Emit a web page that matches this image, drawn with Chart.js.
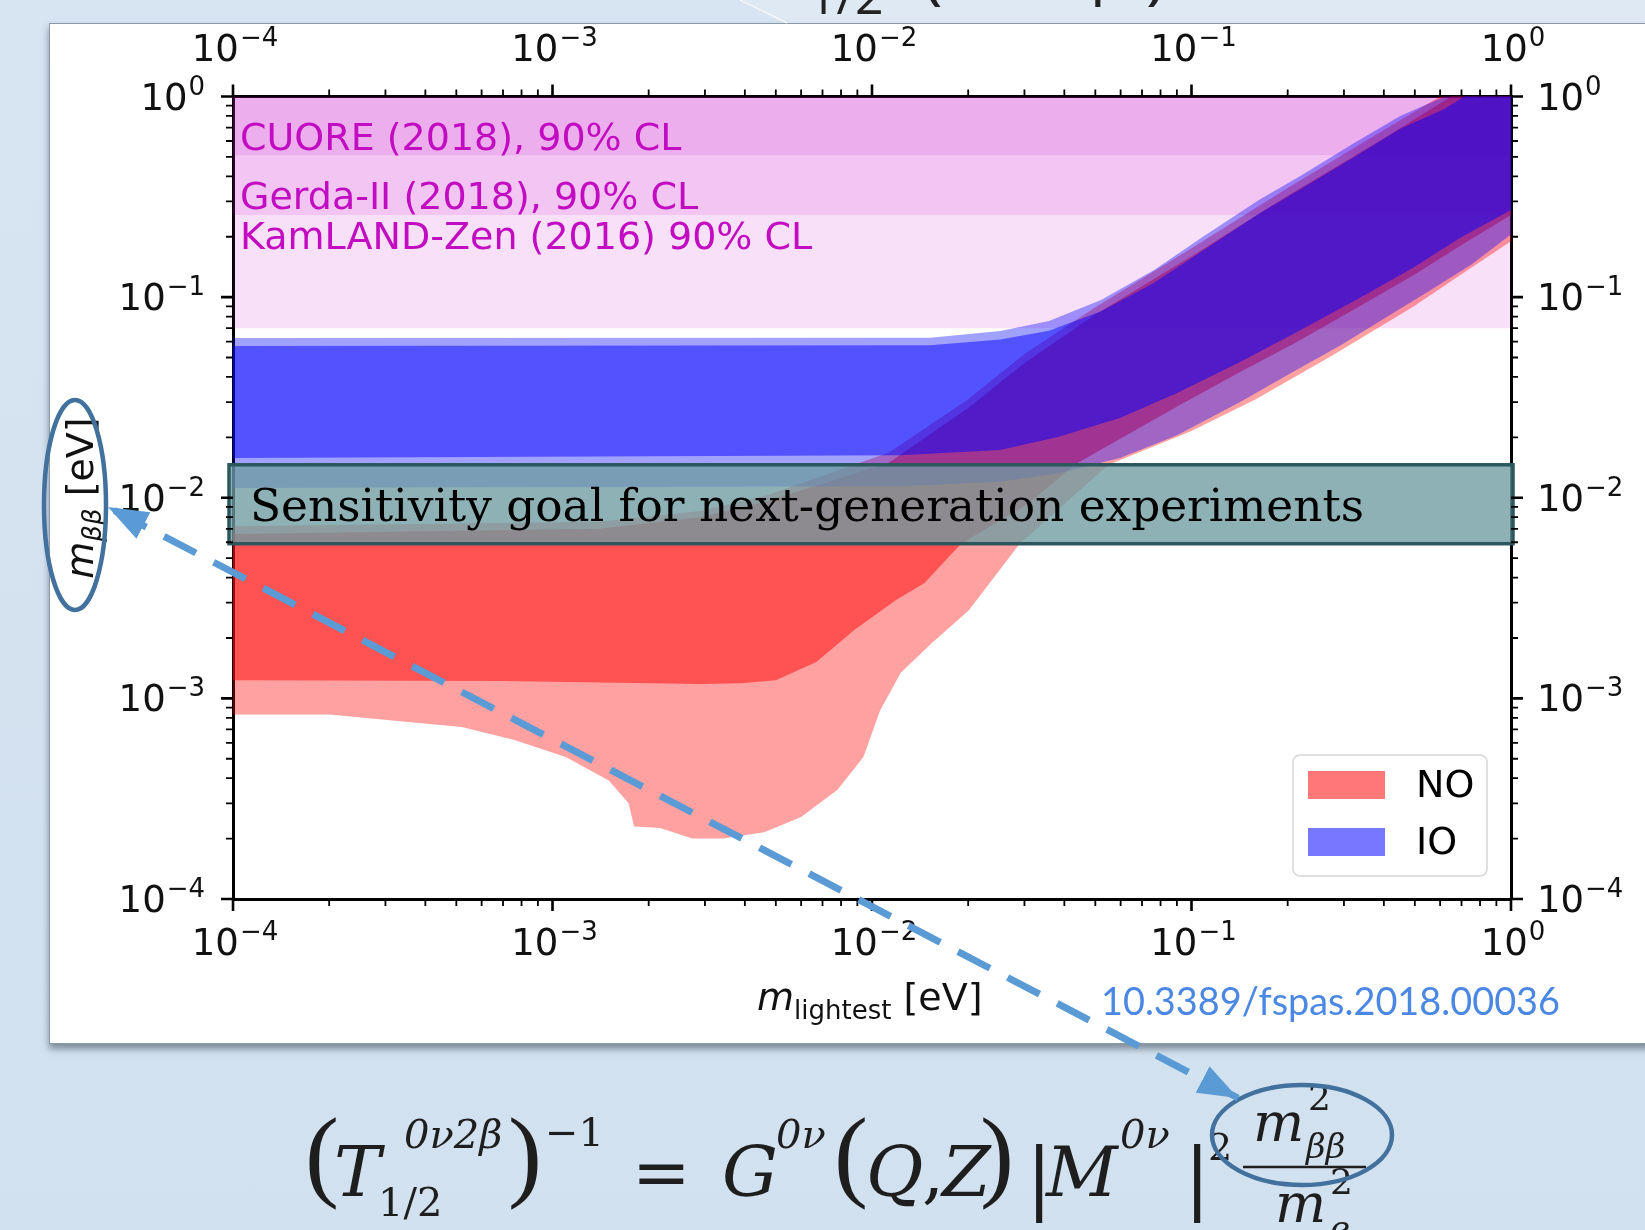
<!DOCTYPE html>
<html>
<head>
<meta charset="utf-8">
<script src="https://cdn.jsdelivr.net/npm/chart.js@4.4.1/dist/chart.umd.min.js"></script>
<style>
  html, body { margin: 0; padding: 0; }
  body {
    width: 1645px; height: 1230px; overflow: hidden; position: relative;
    background: linear-gradient(180deg, #d7e4f2 0%, #d2e1ef 100%);
  }
  #panel {
    position: absolute; left: 49px; top: 23px; width: 1640px; height: 1019px;
    background: #fff; border: 1.5px solid #8b99a9;
    box-shadow: 0 5px 7px rgba(70, 80, 95, 0.6);
  }
  #chart { position: absolute; left: 0; top: 0; }
  #overlay { position: absolute; left: 0; top: 0; }
</style>
</head>
<body>
<div id="panel"></div>
<canvas id="chart" width="1645" height="1230"></canvas>
<svg id="overlay" width="1645" height="1230" xmlns="http://www.w3.org/2000/svg">
  <defs>
    <marker id="head" viewBox="0 0 10 10" refX="10" refY="5" markerWidth="40" markerHeight="30"
            markerUnits="userSpaceOnUse" preserveAspectRatio="none" orient="auto-start-reverse">
      <path d="M0,0 L10,5 L0,10 z" fill="#5b9bd5"/>
    </marker>
  </defs>

  <!-- cropped slide title -->
  <polygon points="740,0 1645,0 1645,23 787,23" fill="rgba(255,255,255,0.18)"/>
  <line x1="740" y1="0" x2="787" y2="23" stroke="rgba(255,255,255,0.7)" stroke-width="1.5"/>
  <g font-family="Open Sans" fill="#222">
    <text x="752" y="-6" font-size="70">T</text>
    <text x="808" y="14" font-size="50">1/2</text>
    <text x="922" y="-4" font-size="70">(</text>
    <text x="1090" y="-8" font-size="62">β</text>
    <text x="1146" y="-4" font-size="70">)</text>
  </g>

  <!-- axis titles -->
  <text transform="translate(93,498) rotate(-90)" text-anchor="middle" font-family="DejaVu Sans" font-size="38" fill="#111"><tspan font-style="italic">m</tspan><tspan font-size="26" font-style="italic" dy="8">ββ</tspan><tspan dy="-8"> [eV]</tspan></text>
  <text x="757" y="1010" font-family="DejaVu Sans" font-size="38" fill="#111"><tspan font-style="italic">m</tspan><tspan font-size="26" dy="9">lightest</tspan><tspan dy="-9"> [eV]</tspan></text>

  <text x="1101" y="1015" font-family="Lato" font-size="38" fill="#4a88e4" textLength="459" lengthAdjust="spacingAndGlyphs">10.3389/fspas.2018.00036</text>

  <!-- formula -->
  <g font-family="DejaVu Serif" fill="#1e1e1e">
    <text x="305" y="1188" font-size="102" font-family="Liberation Serif">(</text>
    <text x="334" y="1196" font-size="70" font-style="italic">T</text>
    <text x="404" y="1148" font-size="40" font-style="italic">0ν2β</text>
    <text x="378" y="1216" font-size="40">1/2</text>
    <text x="508" y="1188" font-size="102" font-family="Liberation Serif">)</text>
    <text x="545" y="1146" font-size="40">−1</text>
    <text x="632" y="1196" font-size="70">=</text>
    <text x="722" y="1196" font-size="70" font-style="italic">G</text>
    <text x="776" y="1148" font-size="40" font-style="italic">0ν</text>
    <text x="834" y="1188" font-size="102" font-family="Liberation Serif">(</text>
    <text x="866" y="1196" font-size="70" font-style="italic">Q</text>
    <text x="922" y="1196" font-size="70">,</text>
    <text x="942" y="1196" font-size="70" font-style="italic">Z</text>
    <text x="980" y="1188" font-size="102" font-family="Liberation Serif">)</text>
    <text x="1026" y="1204" font-size="78">|</text>
    <text x="1046" y="1196" font-size="70" font-style="italic">M</text>
    <text x="1120" y="1148" font-size="40" font-style="italic">0ν</text>
    <text x="1184" y="1204" font-size="78">|</text>
    <text x="1208" y="1160" font-size="38">2</text>
    <text x="1253" y="1141" font-size="54" font-style="italic">m</text>
    <text x="1308" y="1110" font-size="36">2</text>
    <text x="1306" y="1158" font-size="34" font-style="italic">ββ</text>
    <line x1="1243" y1="1167" x2="1366" y2="1167" stroke="#1e1e1e" stroke-width="2.5"/>
    <text x="1275" y="1222" font-size="54" font-style="italic">m</text>
    <text x="1330" y="1194" font-size="36">2</text>
    <text x="1330" y="1240" font-size="34" font-style="italic">e</text>
  </g>

  <!-- callouts -->
  <ellipse cx="75" cy="505" rx="31" ry="105" fill="none" stroke="#41719c" stroke-width="4.5"/>
  <ellipse cx="1302" cy="1135" rx="90" ry="50" fill="none" stroke="#41719c" stroke-width="4.5"/>
  <line x1="1238" y1="1098" x2="108" y2="507" stroke="#5b9bd5" stroke-width="7"
        stroke-dasharray="36 20" marker-start="url(#head)" marker-end="url(#head)"/>
</svg>

<script>
// axes: lightest neutrino mass and effective Majorana mass, both in eV
const tickValues = [1e-4, 1e-3, 1e-2, 1e-1, 1];
const tickLabels = ['10^−4', '10^−3', '10^−2', '10^−1', '10^0'];

// experimental 90% CL limits (bottom of each shaded band)
const expNames = ['CUORE (2018), 90% CL', 'Gerda-II (2018), 90% CL', 'KamLAND-Zen (2016) 90% CL'];
const expLimits = [0.51, 0.257, 0.070];

// sensitivity goal band [low, high]
const goalRange = [0.0059, 0.0146];

// normal ordering, outer (light) region
const noOuterLowX = [1e-4, 2.0e-4, 3.6e-4, 5.2e-4, 7.6e-4, 1.1e-3, 1.5e-3, 1.73e-3, 1.8e-3, 2.17e-3, 2.74e-3, 3.42e-3, 4.6e-3, 6.0e-3, 7.8e-3, 9.4e-3, 0.0106, 0.0123, 0.0154, 0.0201, 0.029, 0.055, 0.1, 0.159, 0.281, 0.497, 0.7, 1.0];
const noOuterLowY = [8.3e-4, 8.3e-4, 7.6e-4, 7.2e-4, 6.2e-4, 5.1e-4, 3.9e-4, 3.0e-4, 2.3e-4, 2.26e-4, 2.0e-4, 2.0e-4, 2.15e-4, 2.56e-4, 3.5e-4, 5.1e-4, 8.7e-4, 1.34e-3, 1.89e-3, 2.75e-3, 5.9e-3, 0.0146, 0.0215, 0.031, 0.052, 0.090, 0.13, 0.19];
const noOuterHighX = [1e-4, 1.4e-3, 2.9e-3, 4.7e-3, 0.0113, 0.02, 0.03, 0.05, 0.1, 0.2, 0.4, 0.6, 0.8, 1.0];
const noOuterHighY = [0.0072, 0.0076, 0.0086, 0.0103, 0.0168, 0.031, 0.052, 0.089, 0.175, 0.35, 0.68, 1.0, 1.3, 1.6];

// normal ordering, inner (dark) region
const noInnerLowX = [1e-4, 6.9e-4, 2.9e-3, 3.9e-3, 5.0e-3, 6.7e-3, 8.8e-3, 0.0119, 0.0146, 0.019, 0.031, 0.043, 0.092, 0.142, 0.211, 0.336, 0.497, 0.692, 1.0];
const noInnerLowY = [1.23e-3, 1.22e-3, 1.18e-3, 1.19e-3, 1.23e-3, 1.52e-3, 2.19e-3, 3.09e-3, 3.76e-3, 5.9e-3, 9.4e-3, 0.0146, 0.029, 0.0423, 0.059, 0.090, 0.129, 0.180, 0.257];
const noInnerHighX = [1e-4, 1.4e-3, 2.9e-3, 4.7e-3, 0.0113, 0.02, 0.03, 0.05, 0.1, 0.2, 0.4, 0.65, 0.8, 1.0];
const noInnerHighY = [0.0066, 0.0070, 0.0080, 0.0096, 0.0150, 0.028, 0.047, 0.082, 0.16, 0.32, 0.62, 1.0, 1.25, 1.5];

// inverted ordering, outer (light) region
const ioOuterLowX = [1e-4, 0.0123, 0.0252, 0.0382, 0.0597, 0.0902, 0.142, 0.211, 0.296, 0.40, 0.558, 0.75, 1.0];
const ioOuterLowY = [0.0112, 0.0114, 0.0120, 0.0132, 0.0158, 0.0205, 0.030, 0.043, 0.058, 0.078, 0.108, 0.145, 0.205];
const ioOuterHighX = [1e-4, 0.0152, 0.0252, 0.0358, 0.0521, 0.0764, 0.108, 0.1625, 0.219, 0.323, 0.45, 0.621, 0.8, 1.0];
const ioOuterHighY = [0.0625, 0.0628, 0.0678, 0.076, 0.0968, 0.1365, 0.199, 0.305, 0.402, 0.586, 0.80, 1.0, 1.3, 1.6];

// inverted ordering, inner (dark) region
const ioInnerLowX = [1e-4, 0.0123, 0.0252, 0.0382, 0.0597, 0.0902, 0.142, 0.211, 0.336, 0.497, 0.692, 1.0];
const ioInnerLowY = [0.0158, 0.0163, 0.0173, 0.0201, 0.025, 0.0333, 0.0475, 0.0662, 0.099, 0.141, 0.197, 0.272];
const ioInnerHighX = [1e-4, 0.0152, 0.0252, 0.0358, 0.0521, 0.0764, 0.108, 0.1625, 0.219, 0.323, 0.45, 0.621, 0.8, 1.0];
const ioInnerHighY = [0.057, 0.0575, 0.0615, 0.068, 0.085, 0.118, 0.17, 0.26, 0.345, 0.50, 0.69, 0.87, 1.12, 1.4];

// closed outline: lower edge left->right, upper edge right->left
function outline(lx, ly, hx, hy) {
  const low = lx.map((x, i) => ({x: x, y: ly[i]}));
  const high = hx.map((x, i) => ({x: x, y: hy[i]})).reverse();
  return low.concat(high);
}

function region(label, data, color) {
  return {
    label: label, data: data, showLine: true, fill: 'shape',
    backgroundColor: color, borderColor: 'transparent', borderWidth: 0, pointRadius: 0
  };
}

// first dataset is drawn on top
const datasets = [
  region('IO', outline(ioInnerLowX, ioInnerLowY, ioInnerHighX, ioInnerHighY), 'rgba(0,0,255,0.49)'),
  region('IO 3σ', outline(ioOuterLowX, ioOuterLowY, ioOuterHighX, ioOuterHighY), 'rgba(0,0,255,0.37)'),
  region('NO', outline(noInnerLowX, noInnerLowY, noInnerHighX, noInnerHighY), 'rgba(255,0,0,0.49)'),
  region('NO 3σ', outline(noOuterLowX, noOuterLowY, noOuterHighX, noOuterHighY), 'rgba(255,0,0,0.37)')
];
expLimits.forEach(function(lim, i) {
  datasets.push({
    label: expNames[i],
    data: [{x: tickValues[0], y: lim}, {x: tickValues[tickValues.length - 1], y: lim}],
    showLine: true, fill: 'end',
    backgroundColor: 'rgba(200,0,200,0.12)', borderColor: 'transparent', borderWidth: 0, pointRadius: 0
  });
});

// "10" with a raised exponent, anchored left / centre / right
function powerLabel(ctx, label, x, baseline, align) {
  const parts = label.split('^');
  ctx.font = '37px "DejaVu Sans"';
  const wb = ctx.measureText(parts[0]).width;
  ctx.font = '26px "DejaVu Sans"';
  const we = ctx.measureText(parts[1]).width;
  const w = wb + we + 1;
  let x0 = x;
  if (align === 'center') x0 = x - w / 2;
  if (align === 'right') x0 = x - w;
  ctx.font = '37px "DejaVu Sans"';
  ctx.fillText(parts[0], x0, baseline);
  ctx.font = '26px "DejaVu Sans"';
  ctx.fillText(parts[1], x0 + wb + 1, baseline - 15);
}

// box, text labels, tick marks and legend drawn on top of the plot
const decor = {
  id: 'decor',
  afterDatasetsDraw(chart) {
    const ctx = chart.ctx;
    const a = chart.chartArea;
    const y = chart.scales.y;

    // labels of the limit bands
    const labelY = [140, 199, 239];
    ctx.save();
    ctx.fillStyle = '#c20cc2';
    ctx.font = '38px "DejaVu Sans"';
    ctx.textBaseline = 'middle';
    expNames.forEach(function(name, i) {
      ctx.fillText(name, a.left + 7, labelY[i]);
    });

    // sensitivity goal box
    const top = y.getPixelForValue(goalRange[1]);
    const bot = y.getPixelForValue(goalRange[0]);
    ctx.fillStyle = 'rgba(110,155,162,0.78)';
    ctx.fillRect(a.left - 4, top, a.right - a.left + 6, bot - top);
    ctx.strokeStyle = '#2c585d';
    ctx.lineWidth = 3.5;
    ctx.strokeRect(a.left - 4, top, a.right - a.left + 6, bot - top);
    ctx.fillStyle = '#000';
    ctx.font = '48px "DejaVu Serif"';
    const txt = 'Sensitivity goal for next-generation experiments';
    const w = ctx.measureText(txt).width;
    ctx.font = (48 * 1114 / w).toFixed(1) + 'px "DejaVu Serif"';
    ctx.textBaseline = 'alphabetic';
    ctx.fillText(txt, a.left + 17, bot - 23);
    ctx.restore();
  },
  afterDraw(chart) {
    const ctx = chart.ctx;
    const a = chart.chartArea;
    const s = chart.scales;
    ctx.save();
    ctx.strokeStyle = '#000';
    for (let n = -4; n <= 0; n++) {
      for (let k = 1; k <= 9; k++) {
        if (n === 0 && k > 1) break;
        const v = k * Math.pow(10, n);
        const len = k === 1 ? 12 : 7;
        ctx.lineWidth = k === 1 ? 2.6 : 1.8;
        const px = s.x.getPixelForValue(v);
        const py = s.y.getPixelForValue(v);
        ctx.beginPath();
        ctx.moveTo(px, a.bottom); ctx.lineTo(px, a.bottom + len);
        ctx.moveTo(px, a.top); ctx.lineTo(px, a.top - len);
        ctx.moveTo(a.left, py); ctx.lineTo(a.left - len, py);
        ctx.moveTo(a.right, py); ctx.lineTo(a.right + len, py);
        ctx.stroke();
      }
    }

    // tick labels on all four sides
    ctx.fillStyle = '#111';
    ctx.textBaseline = 'alphabetic';
    tickValues.forEach(function(v, i) {
      const px = s.x.getPixelForValue(v);
      const py = s.y.getPixelForValue(v);
      powerLabel(ctx, tickLabels[i], px + 2, a.bottom + 56, 'center');
      powerLabel(ctx, tickLabels[i], px + 2, a.top - 36, 'center');
      powerLabel(ctx, tickLabels[i], a.left - 28, py + 13, 'right');
      powerLabel(ctx, tickLabels[i], a.right + 26, py + 13, 'left');
    });

    // legend
    const lx = a.right - 218, ly = a.bottom - 144;
    ctx.beginPath();
    ctx.roundRect(lx, ly, 194, 121, 7);
    ctx.fillStyle = 'rgba(255,255,255,0.85)';
    ctx.fill();
    ctx.strokeStyle = '#d6d6d6';
    ctx.lineWidth = 1.5;
    ctx.stroke();
    const items = [['NO', '#ff7878'], ['IO', '#7878ff']];
    ctx.font = '38px "DejaVu Sans"';
    ctx.textBaseline = 'middle';
    items.forEach(function(it, i) {
      const cy = ly + 30 + i * 57;
      ctx.fillStyle = it[1];
      ctx.fillRect(lx + 15, cy - 14, 77, 28);
      ctx.fillStyle = '#000';
      ctx.fillText(it[0], lx + 123, cy + 2);
    });
    ctx.restore();
  }
};

function logAxis(position, size) {
  return {
    type: 'logarithmic', position: position, min: tickValues[0], max: tickValues[tickValues.length - 1],
    grid: {display: false, drawTicks: false},
    border: {display: true, color: '#000', width: 3},
    z: 1,
    afterBuildTicks: function(sc) { sc.ticks = tickValues.map(function(v) { return {value: v}; }); },
    afterFit: function(sc) { if (sc.isHorizontal()) sc.height = size; else sc.width = size; },
    ticks: {display: false}
  };
}

new Chart(document.getElementById('chart'), {
  type: 'scatter',
  data: {datasets: datasets},
  options: {
    responsive: false,
    animation: false,
    events: [],
    layout: {padding: 0},
    plugins: {legend: {display: false}, tooltip: {enabled: false}},
    scales: {
      x: logAxis('bottom', 331),
      x2: logAxis('top', 96.5),
      y: logAxis('left', 233),
      y2: logAxis('right', 134)
    }
  },
  plugins: [decor]
});
</script>
</body>
</html>
